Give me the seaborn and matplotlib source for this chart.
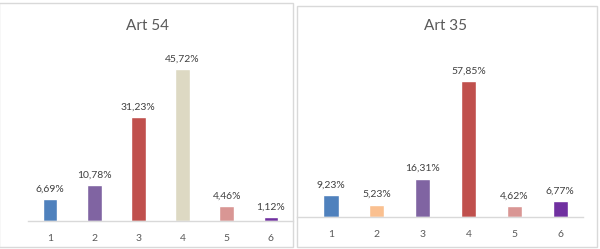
import matplotlib
matplotlib.use('Agg')
import matplotlib.pyplot as plt
import seaborn as sns
from matplotlib.patches import Rectangle

# =========================
# DADOS
# =========================

categorias = ['1', '2', '3', '4', '5', '6']

art54_valores = [6.69, 10.78, 31.23, 45.72, 4.46, 1.12]
art54_cores = ['#4F81BD', '#8064A2', '#C0504D', '#DDD9C3', '#D99694', '#7030A0']

art35_valores = [9.23, 5.23, 16.31, 57.85, 4.62, 6.77]
art35_cores = ['#4F81BD', '#FAC090', '#8064A2', '#C0504D', '#D99694', '#7030A0']

sns.set_style('white')
plt.rcParams['font.family'] = ['Lato', 'DejaVu Sans']

W, H = 600, 249
fig = plt.figure(figsize=(6, 2.49), dpi=100)
fig.patch.set_facecolor('white')


def px_axes(x0, x1, y_top, y_base):
    return fig.add_axes([x0 / W, (H - y_base) / H, (x1 - x0) / W, (y_base - y_top) / H])


# molduras dos dois graficos
fig.add_artist(Rectangle((-1 / W, (H - 247) / H), 294 / W, 244 / H, transform=fig.transFigure,
                         fill=False, edgecolor='#D9D9D9', lw=1))
fig.add_artist(Rectangle((297 / W, (H - 247) / H), 300 / W, 241 / H, transform=fig.transFigure,
                         fill=False, edgecolor='#D9D9D9', lw=1))


def grafico(ax, valores, cores, titulo, px_por_unidade, y_base, xlim):
    sns.barplot(x=categorias, y=valores, hue=categorias, palette=cores,
                width=0.33, legend=False, ax=ax, saturation=1)
    ax.set_xlim(*xlim)
    ax.set_ylim(0, (y_base - 40) / px_por_unidade)
    rotulos = [f'{v:.2f}%'.replace('.', ',') for v in valores]
    for cont, txt in zip(ax.containers, rotulos):
        ax.bar_label(cont, labels=[txt], padding=4, fontsize=7.5, color='#404040')
    for s in ['top', 'left', 'right']:
        ax.spines[s].set_visible(False)
    ax.spines['bottom'].set_color('#D9D9D9')
    ax.spines['bottom'].set_linewidth(1)
    ax.set_yticks([])
    ax.tick_params(axis='x', length=0, pad=9, labelsize=7.5, labelcolor='#595959')
    ax.set_xlabel('')
    ax.set_ylabel('')
    ax.patch.set_alpha(0)


ax1 = px_axes(28, 293, 40, 221)
grafico(ax1, art54_valores, art54_cores, 'Art 54', 3.32, 221, (-0.5, 5.5))
fig.text(147 / W, 1 - 26 / H, 'Art 54', ha='center', va='center', fontsize=11, color='#595959')

ax2 = px_axes(297, 583, 40, 217)
grafico(ax2, art35_valores, art35_cores, 'Art 35', 2.35, 217, (-0.742, 5.5))
fig.text(445 / W, 1 - 26 / H, 'Art 35', ha='center', va='center', fontsize=11, color='#595959')

fig.savefig('out.png', dpi=100)
